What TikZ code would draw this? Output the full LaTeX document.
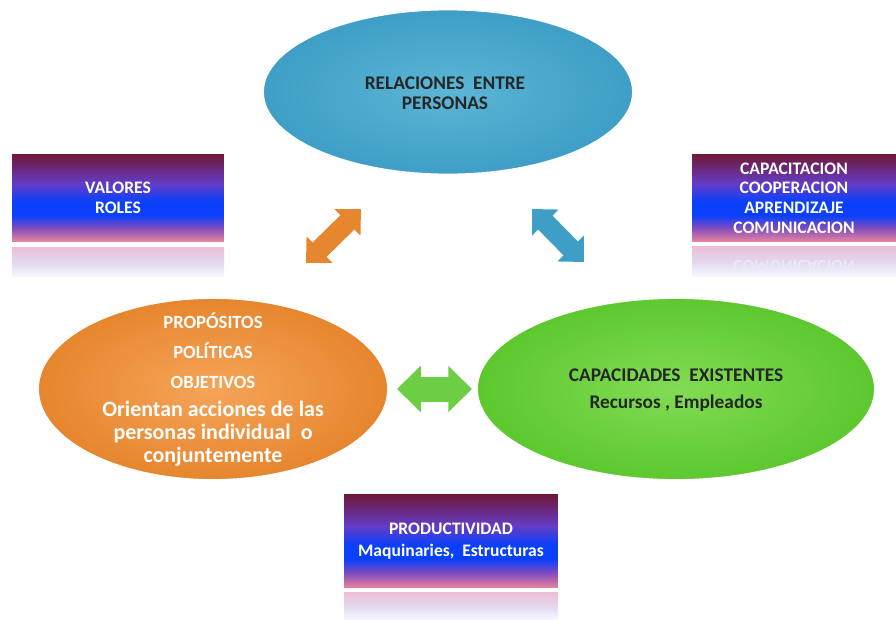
\documentclass[tikz,border=0pt]{standalone}
\usepackage{fontspec}
\setmainfont{Carlito}
\usetikzlibrary{arrows.meta, positioning, shapes.geometric}

\definecolor{boxmaroon}{RGB}{112,24,56}
\definecolor{boxpurple}{RGB}{100,60,200}
\definecolor{boxblue}{RGB}{10,64,250}
\definecolor{boxpink}{RGB}{232,132,158}
\definecolor{reflpink}{RGB}{236,190,214}
\definecolor{refllav}{RGB}{226,214,238}
\definecolor{reflwhite}{RGB}{244,248,255}
\definecolor{blueIn}{RGB}{92,182,214}
\definecolor{blueOut}{RGB}{62,158,198}
\definecolor{orangeIn}{RGB}{246,164,88}
\definecolor{orangeOut}{RGB}{230,134,46}
\definecolor{greenIn}{RGB}{130,220,84}
\definecolor{greenOut}{RGB}{92,200,46}

% the boxes: maroon on top, blue in the middle, pink at the bottom
\pgfdeclareverticalshading{boxshade}{100bp}{color(0bp)=(boxpink); color(25bp)=(boxpink);
  color(33bp)=(boxpurple!80!boxpink); color(40bp)=(boxblue); color(48bp)=(boxblue);
  color(58bp)=(boxpurple); color(75bp)=(boxmaroon); color(100bp)=(boxmaroon)}
% their reflections: pink, lavender, then almost white
\pgfdeclareverticalshading{reflshade}{100bp}{color(0bp)=(reflwhite); color(25bp)=(reflwhite);
  color(50bp)=(refllav); color(75bp)=(reflpink); color(100bp)=(reflpink)}

\begin{document}
\begin{tikzpicture}[x=0.02cm, y=-0.02cm,
  elli/.style={ellipse, inner sep=0pt, draw=white, line width=1pt},
  gbox/.style={rectangle, inner sep=0pt, shading=boxshade, text=white, align=center,
    font=\fontsize{10}{11.2}\selectfont\bfseries},
  refl/.style={shading=reflshade},
  dblarrow/.style={line width=#1, {Triangle[length=0.95*#1, width=1.8*#1]}-{Triangle[length=0.95*#1, width=1.8*#1]}}]
\useasboundingbox (0,0) rectangle (896,619);
% the three ellipses
\node[elli, minimum width=7.4cm, minimum height=3.3cm, inner color=blueIn, outer color=blueOut] (rel) at (448,92) {};
\node[font=\fontsize{11}{11.5}\selectfont\bfseries, text=black!85, align=center] (reltxt) at (445,93)
  {RELACIONES\ \ ENTRE\\PERSONAS};
\node[elli, minimum width=7.0cm, minimum height=3.64cm, inner color=orangeIn, outer color=orangeOut] (prop) at (213,389) {};
\node[text=white, align=center, font=\fontsize{10.6}{17}\selectfont\bfseries] (proptxt) at (213,351)
  {PROPÓSITOS\\POLÍTICAS\\OBJETIVOS};
\node[text=white, align=center, font=\fontsize{12.5}{13}\selectfont\bfseries, below=0pt of proptxt] (orienta)
  {Orientan acciones de las\\personas individual\ \ o\\conjuntemente};
\node[elli, minimum width=7.96cm, minimum height=3.64cm, inner color=greenIn, outer color=greenOut] (cap) at (676,389) {};
\node[text=black!85, align=center, font=\fontsize{11}{15.3}\selectfont\bfseries] (captxt) at (676,390)
  {CAPACIDADES\ \ EXISTENTES\\Recursos , Empleados};
% shaded boxes with their reflections
\node[gbox, minimum width=4.24cm, minimum height=1.74cm] (val) at (118,198) {VALORES\\ROLES};
\fill[refl] (12,247) rectangle (224,276);
\node[gbox, minimum width=4.08cm, minimum height=1.74cm] (capac) at (794,198)
  {CAPACITACION\\COOPERACION\\APRENDIZAJE\\COMUNICACION};
\fill[refl] (692,246) rectangle (896,276);
\node[yscale=-1, text=boxpurple!12, font=\fontsize{10}{11}\selectfont\bfseries] (mirror) at (794,266) {COMUNICACION};
\node[gbox, minimum width=4.28cm, minimum height=1.86cm, font=\fontsize{10}{12.5}\selectfont\bfseries] (prod) at (451,541)
  {PRODUCTIVIDAD\\Maquinaries,\ \ Estructuras};
\fill[refl] (344,592) rectangle (558,619);
% the double arrows between the ellipses
\coordinate (oa) at (306,263);
\coordinate (ob) at (361,209);
\coordinate (ba) at (532,209);
\coordinate (bb) at (584,262);
\coordinate (ga) at (397,389);
\coordinate (gb) at (472,389);
\draw[dblarrow=0.4cm, orangeOut] (oa) -- (ob);
\draw[dblarrow=0.4cm, blueOut] (ba) -- (bb);
\draw[dblarrow=0.5cm, greenOut!90!white] (ga) -- (gb);
\end{tikzpicture}
\end{document}
